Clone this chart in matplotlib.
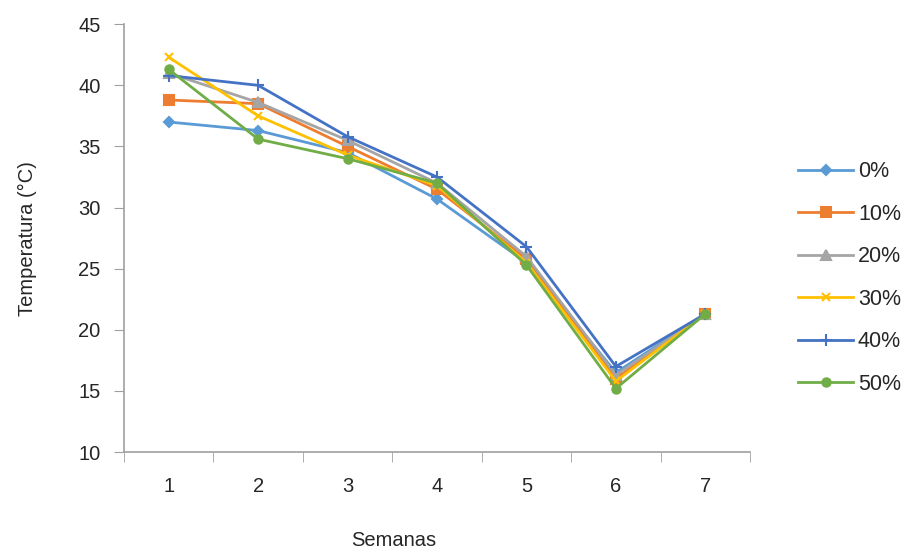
import numpy as np
import matplotlib
matplotlib.use("Agg")
import matplotlib.pyplot as plt

plt.rcParams['font.family'] = ['Liberation Sans', 'DejaVu Sans']

semanas = [1, 2, 3, 4, 5, 6, 7]
series_labels = ['0%', '10%', '20%', '30%', '40%', '50%']
t_0 = [37.0, 36.3, 34.5, 30.7, 25.5, 16.5, 21.3]
t_10 = [38.8, 38.5, 35.0, 31.5, 25.8, 16.0, 21.3]
t_20 = [41.0, 38.6, 35.5, 32.0, 26.0, 16.3, 21.3]
t_30 = [42.3, 37.5, 34.3, 31.8, 25.5, 15.8, 21.3]
t_40 = [40.8, 40.0, 35.8, 32.5, 26.8, 17.0, 21.3]
t_50 = [41.3, 35.6, 34.0, 32.0, 25.3, 15.2, 21.3]

colors = ['#5B9BD5', '#ED7D31', '#A5A5A5', '#FFC000', '#4472C4', '#70AD47']
markers = ['D', 's', '^', 'x', '+', 'o']
msizes = [5, 7, 7, 6, 9, 6]
fs = 14.5
txt = '#262626'

fig = plt.figure(figsize=(9.08, 5.5), dpi=100)
ax = fig.add_axes([0.1366, 0.178, 0.6894, 0.778])

data = [t_0, t_10, t_20, t_30, t_40, t_50]
for vals, lab, c, m, ms in zip(data, series_labels, colors, markers, msizes):
    ax.plot(semanas, vals, color=c, marker=m, markersize=ms, linewidth=2.0,
            label=lab, markeredgewidth=1.5)

ax.set_xlim(0.5, 7.5)
ax.set_ylim(10, 45)
ax.set_yticks(np.arange(10, 46, 5))
ax.set_xticks(semanas)
ax.set_xticks(np.arange(0.5, 7.6, 1), minor=True)
ax.tick_params(axis='x', which='major', length=0, pad=18, labelsize=fs, labelcolor=txt)
ax.tick_params(axis='x', which='minor', length=7, color='#A0A0A0', direction='out')
ax.tick_params(axis='y', length=7, color='#A0A0A0', labelsize=fs, labelcolor=txt, pad=10)

for s in ['top', 'right']:
    ax.spines[s].set_visible(False)
for s in ['left', 'bottom']:
    ax.spines[s].set_color('#A0A0A0')
    ax.spines[s].set_linewidth(1.2)

ax.set_xlabel('Semanas', fontsize=fs, color=txt, va='center')
ax.xaxis.set_label_coords(0.431, -0.206)
ax.set_ylabel('Temperatura (°C)', fontsize=fs, color=txt, va='center')
ax.yaxis.set_label_coords(-0.155, 0.5)

leg = fig.legend(loc='center left', bbox_to_anchor=(0.879, 0.4945), frameon=False,
                 fontsize=15.5, handlelength=2.55, labelspacing=1.0, handletextpad=0.23,
                 borderpad=0, borderaxespad=0)
for t in leg.get_texts():
    t.set_color(txt)

fig.savefig('out.png', dpi=100)
